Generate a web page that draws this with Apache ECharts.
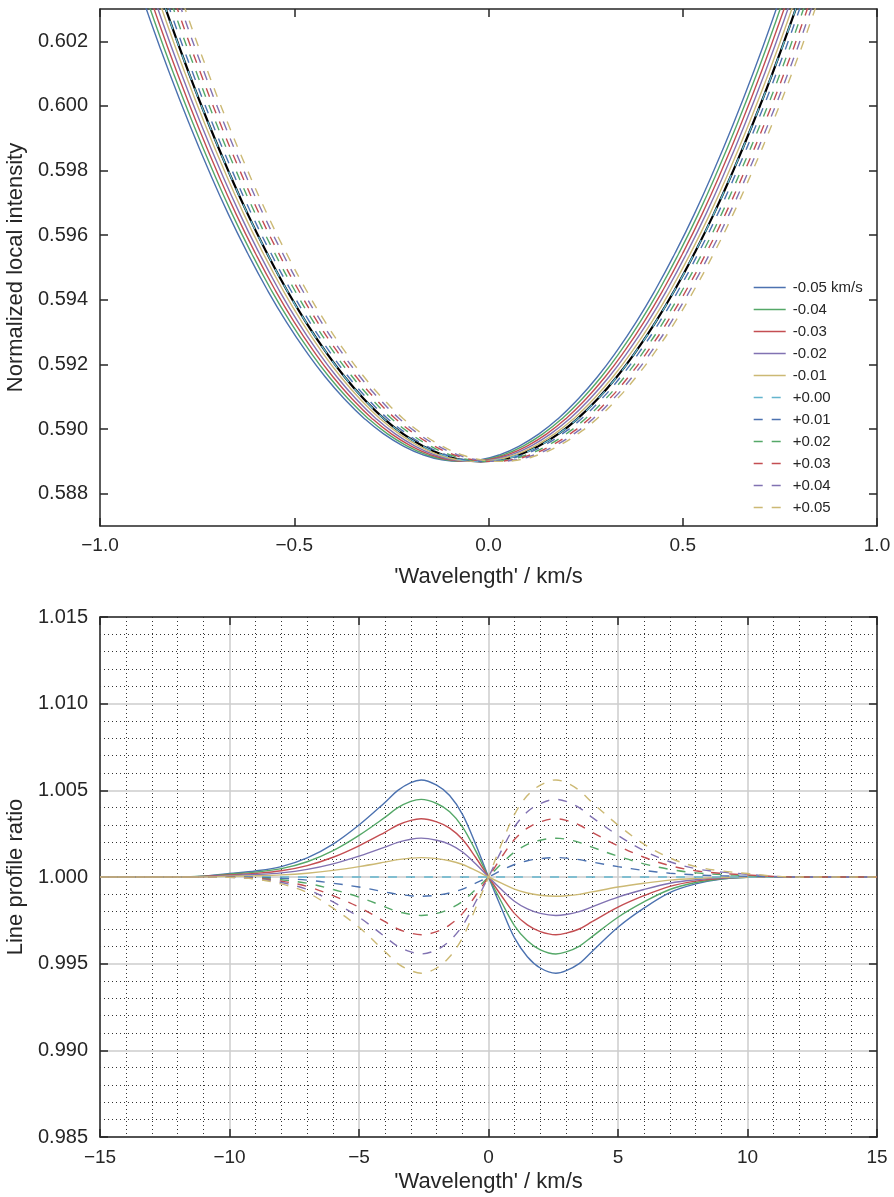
<!DOCTYPE html>
<html><head><meta charset="utf-8">
<script src="https://cdn.jsdelivr.net/npm/echarts@6/dist/echarts.min.js"></script>
<style>html,body{margin:0;padding:0;background:#fff}#c{width:894px;height:1197px}</style>
</head><body><div id="c"></div>
<script>
// ---------- shared series definitions ----------
const seriesNames = ['-0.05 km/s','-0.04','-0.03','-0.02','-0.01','+0.00','+0.01','+0.02','+0.03','+0.04','+0.05'];
const shiftValues = [-0.05,-0.04,-0.03,-0.02,-0.01,0.00,0.01,0.02,0.03,0.04,0.05];
const seriesColors = ['#4C72B0','#55A868','#C44E52','#8172B2','#CCB974','#64B5CD','#4C72B0','#55A868','#C44E52','#8172B2','#CCB974'];
const seriesDashed = [false,false,false,false,false,true,true,true,true,true,true];

// ---------- top panel: reference (unshifted) local intensity profile ----------
const profileX = [-0.88,-0.82,-0.77,-0.72,-0.67,-0.62,-0.57,-0.52,-0.47,-0.42,-0.37,-0.32,-0.27,-0.22,-0.17,-0.12,-0.07,-0.02,0.03,0.08,0.13,0.18,0.23,0.28,0.33,0.38,0.43,0.48,0.53,0.58,0.63,0.68,0.73,0.78,0.84];
const profileY = [0.60475,0.60263,0.60098,0.59944,0.59800,0.59666,0.59544,0.59432,0.59331,0.59241,0.59161,0.59092,0.59033,0.58985,0.58948,0.58921,0.58905,0.58900,0.58905,0.58921,0.58948,0.58985,0.59033,0.59092,0.59161,0.59241,0.59331,0.59432,0.59544,0.59666,0.59800,0.59944,0.60098,0.60263,0.60475];
const topYTicks = [0.588,0.590,0.592,0.594,0.596,0.598,0.600,0.602];

// ---------- bottom panel: line profile ratio ----------
const ratioX = [-15,-12,-11,-10,-9,-8,-7,-6,-5,-4,-3.5,-3,-2.6,-2,-1.5,-1,-0.5,0,0.5,1,1.5,2,2.6,3,3.5,4,5,6,7,8,9,10,11,12,15];
const ratioM05 = [1.00000,1.00000,1.00005,1.00020,1.00035,1.00060,1.00110,1.00190,1.00300,1.00430,1.00500,1.00545,1.00560,1.00530,1.00470,1.00360,1.00190,1.00000,0.99820,0.99650,0.99540,0.99475,0.99445,0.99460,0.99500,0.99570,0.99710,0.99820,0.99910,0.99960,0.99988,0.99998,1.00000,1.00000,1.00000];
const ratioM04 = [1.00000,1.00000,1.00004,1.00016,1.00028,1.00048,1.00088,1.00152,1.00240,1.00344,1.00400,1.00436,1.00448,1.00424,1.00376,1.00288,1.00152,1.00000,0.99856,0.99720,0.99632,0.99580,0.99556,0.99568,0.99600,0.99656,0.99768,0.99856,0.99928,0.99968,0.99990,0.99998,1.00000,1.00000,1.00000];
const ratioM03 = [1.00000,1.00000,1.00003,1.00012,1.00021,1.00036,1.00066,1.00114,1.00180,1.00258,1.00300,1.00327,1.00336,1.00318,1.00282,1.00216,1.00114,1.00000,0.99892,0.99790,0.99724,0.99685,0.99667,0.99676,0.99700,0.99742,0.99826,0.99892,0.99946,0.99976,0.99993,0.99999,1.00000,1.00000,1.00000];
const ratioM02 = [1.00000,1.00000,1.00002,1.00008,1.00014,1.00024,1.00044,1.00076,1.00120,1.00172,1.00200,1.00218,1.00224,1.00212,1.00188,1.00144,1.00076,1.00000,0.99928,0.99860,0.99816,0.99790,0.99778,0.99784,0.99800,0.99828,0.99884,0.99928,0.99964,0.99984,0.99995,0.99999,1.00000,1.00000,1.00000];
const ratioM01 = [1.00000,1.00000,1.00001,1.00004,1.00007,1.00012,1.00022,1.00038,1.00060,1.00086,1.00100,1.00109,1.00112,1.00106,1.00094,1.00072,1.00038,1.00000,0.99964,0.99930,0.99908,0.99895,0.99889,0.99892,0.99900,0.99914,0.99942,0.99964,0.99982,0.99992,0.99998,1.00000,1.00000,1.00000,1.00000];
const ratioP00 = [1,1,1,1,1,1,1,1,1,1,1,1,1,1,1,1,1,1,1,1,1,1,1,1,1,1,1,1,1,1,1,1,1,1,1];
const ratioP01 = [1.00000,1.00000,1.00000,1.00000,0.99998,0.99992,0.99982,0.99964,0.99942,0.99914,0.99900,0.99892,0.99889,0.99895,0.99908,0.99930,0.99964,1.00000,1.00038,1.00072,1.00094,1.00106,1.00112,1.00109,1.00100,1.00086,1.00060,1.00038,1.00022,1.00012,1.00007,1.00004,1.00001,1.00000,1.00000];
const ratioP02 = [1.00000,1.00000,1.00000,0.99999,0.99995,0.99984,0.99964,0.99928,0.99884,0.99828,0.99800,0.99784,0.99778,0.99790,0.99816,0.99860,0.99928,1.00000,1.00076,1.00144,1.00188,1.00212,1.00224,1.00218,1.00200,1.00172,1.00120,1.00076,1.00044,1.00024,1.00014,1.00008,1.00002,1.00000,1.00000];
const ratioP03 = [1.00000,1.00000,1.00000,0.99999,0.99993,0.99976,0.99946,0.99892,0.99826,0.99742,0.99700,0.99676,0.99667,0.99685,0.99724,0.99790,0.99892,1.00000,1.00114,1.00216,1.00282,1.00318,1.00336,1.00327,1.00300,1.00258,1.00180,1.00114,1.00066,1.00036,1.00021,1.00012,1.00003,1.00000,1.00000];
const ratioP04 = [1.00000,1.00000,1.00000,0.99998,0.99990,0.99968,0.99928,0.99856,0.99768,0.99656,0.99600,0.99568,0.99556,0.99580,0.99632,0.99720,0.99856,1.00000,1.00152,1.00288,1.00376,1.00424,1.00448,1.00436,1.00400,1.00344,1.00240,1.00152,1.00088,1.00048,1.00028,1.00016,1.00004,1.00000,1.00000];
const ratioP05 = [1.00000,1.00000,1.00000,0.99998,0.99988,0.99960,0.99910,0.99820,0.99710,0.99570,0.99500,0.99460,0.99445,0.99475,0.99540,0.99650,0.99820,1.00000,1.00190,1.00360,1.00470,1.00530,1.00560,1.00545,1.00500,1.00430,1.00300,1.00190,1.00110,1.00060,1.00035,1.00020,1.00005,1.00000,1.00000];
const ratioSeries = [ratioM05,ratioM04,ratioM03,ratioM02,ratioM01,ratioP00,ratioP01,ratioP02,ratioP03,ratioP04,ratioP05];

// ---------- styling ----------
const FONT = 'Liberation Sans';
const INK = '#262626';
const DASH = [9, 9];
const fmtMinus = (s) => s.replace('-', '\u2212');

function axisCommon(extra) {
  return Object.assign({
    type: 'value',
    axisLine: { show: true, onZero: false, lineStyle: { color: INK, width: 1.5 } },
    axisTick: { show: true, inside: true, length: 8, lineStyle: { color: INK, width: 1.5 } },
    axisLabel: { show: false },
    splitLine: { show: false },
    nameTextStyle: { fontFamily: FONT, fontSize: 22, color: INK }
  }, extra);
}
const labelStyle = { show: true, fontFamily: FONT, fontSize: 19, color: INK };

const xAxes = [
  axisCommon({ gridIndex: 0, position: 'bottom', min: -1, max: 1, interval: 0.5,
    axisLabel: Object.assign({}, labelStyle, { margin: 10, formatter: v => fmtMinus(v.toFixed(1)) }),
    name: "'Wavelength' / km/s", nameLocation: 'middle', nameGap: 40 }),
  axisCommon({ gridIndex: 0, position: 'top', min: -1, max: 1, interval: 0.5 }),
  axisCommon({ gridIndex: 1, position: 'bottom', min: -15, max: 15, interval: 5,
    axisLabel: Object.assign({}, labelStyle, { margin: 11, formatter: v => fmtMinus(String(Math.round(v))) }),
    splitLine: { show: true, lineStyle: { color: '#cccccc', width: 1.5 } },
    minorTick: { show: false, splitNumber: 5 },
    minorSplitLine: { show: true, lineStyle: { color: '#333333', width: 1, type: [1, 3] } },
    name: "'Wavelength' / km/s", nameLocation: 'middle', nameGap: 34 }),
  axisCommon({ gridIndex: 1, position: 'top', min: -15, max: 15, interval: 5 })
];
const yAxes = [
  axisCommon({ gridIndex: 0, position: 'left', min: 0.587, max: 0.603,
    axisTick: { show: true, inside: true, length: 8, customValues: topYTicks, lineStyle: { color: INK, width: 1.5 } },
    axisLabel: Object.assign({}, labelStyle, { fontSize: 20, margin: 12, customValues: topYTicks, formatter: v => v.toFixed(3) }),
    name: 'Normalized local intensity', nameLocation: 'middle', nameGap: 70 }),
  axisCommon({ gridIndex: 0, position: 'right', min: 0.587, max: 0.603,
    axisTick: { show: true, inside: true, length: 8, customValues: topYTicks, lineStyle: { color: INK, width: 1.5 } } }),
  axisCommon({ gridIndex: 1, position: 'left', min: 0.985, max: 1.015, interval: 0.005,
    axisLabel: Object.assign({}, labelStyle, { fontSize: 20, margin: 12, formatter: v => v.toFixed(3) }),
    splitLine: { show: true, lineStyle: { color: '#cccccc', width: 1.5 } },
    minorTick: { show: false, splitNumber: 5 },
    minorSplitLine: { show: true, lineStyle: { color: '#333333', width: 1, type: [1, 3] } },
    name: 'Line profile ratio', nameLocation: 'middle', nameGap: 70 }),
  axisCommon({ gridIndex: 1, position: 'right', min: 0.985, max: 1.015, interval: 0.005 })
];

const series = [];
// reference profile (black) in the top panel, drawn underneath
series.push({
  name: 'reference', type: 'line', xAxisIndex: 0, yAxisIndex: 0, smooth: true, symbol: 'none',
  data: profileX.map((x, j) => [x, profileY[j]]), clip: true, silent: true, z: 1,
  lineStyle: { color: '#000000', width: 2.2 }
});
seriesNames.forEach((name, i) => {
  series.push({
    name, type: 'line', xAxisIndex: 0, yAxisIndex: 0, smooth: true, symbol: 'none', clip: true, z: 2,
    data: profileX.map((x, j) => [x + shiftValues[i], profileY[j]]),
    lineStyle: { color: seriesColors[i], width: 1.4, type: seriesDashed[i] ? DASH : 'solid' },
    itemStyle: { color: seriesColors[i] }
  });
});
seriesNames.forEach((name, i) => {
  series.push({
    name, type: 'line', xAxisIndex: 2, yAxisIndex: 2, smooth: 0.35, symbol: 'none', clip: true, z: 2,
    data: ratioX.map((x, j) => [x, ratioSeries[i][j]]),
    lineStyle: { color: seriesColors[i], width: 1.4, type: seriesDashed[i] ? DASH : 'solid' },
    itemStyle: { color: seriesColors[i] }
  });
});

const chart = echarts.init(document.getElementById('c'), null, { renderer: 'canvas' });
chart.setOption({
  animation: false,
  backgroundColor: '#ffffff',
  textStyle: { fontFamily: FONT },
  grid: [
    { left: 100, top: 9, width: 777, height: 517, containLabel: false, outerBoundsMode: 'none' },
    { left: 100, top: 617, width: 777, height: 520, containLabel: false, outerBoundsMode: 'none' }
  ],
  legend: {
    data: seriesNames, orient: 'vertical', left: 748, top: 275,
    itemWidth: 32, itemHeight: 14, itemGap: 7, selectedMode: false,
    lineStyle: { width: 1.4 },
    itemStyle: { opacity: 0, color: 'rgba(0,0,0,0)', borderWidth: 0 },
    textStyle: { fontFamily: FONT, fontSize: 15, color: INK, padding: [0, 0, 0, 2] }
  },
  xAxis: xAxes,
  yAxis: yAxes,
  series
});
</script>
</body></html>
